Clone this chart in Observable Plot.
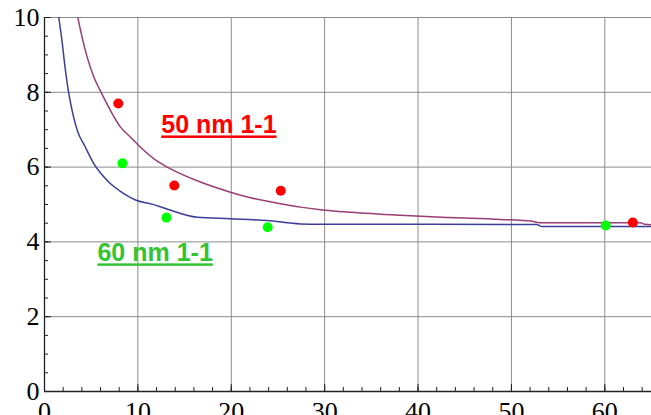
<!DOCTYPE html>
<html>
<head>
<meta charset="utf-8">
<script src="https://cdn.jsdelivr.net/npm/d3@7"></script>
<script src="https://cdn.jsdelivr.net/npm/@observablehq/plot@0.6"></script>
<style>
  html, body { margin: 0; padding: 0; background: white; overflow: hidden; }
  #chart svg { display: block; }
</style>
</head>
<body>
<div id="chart"></div>
<script>
// Fitted curve, 60 nm (blue)
const blueX = [1.53, 1.85, 2.2, 2.6, 2.96, 3.6, 4.3, 5.28, 6.71, 8.49, 9.75, 11.5, 13.1, 16.35, 19.9, 23.85, 27.4, 29.6, 40, 52.7, 53.3, 65];
const blueY = [10, 9.42, 8.67, 7.97, 7.51, 6.92, 6.57, 6.09, 5.64, 5.29, 5.12, 5.01, 4.88, 4.66, 4.62, 4.57, 4.48, 4.47, 4.47, 4.465, 4.41, 4.41];
// Fitted curve, 50 nm (maroon)
const maroonX = [3.57, 4.03, 4.57, 5.28, 6.0, 7.07, 8.14, 9.3, 10.28, 12.24, 13.14, 16.7, 19.9, 22.06, 25.27, 27.4, 29.56, 32.8, 38.1, 43.5, 48.8, 52.2, 53.0, 63.8, 64.3, 65];
const maroonY = [10, 9.47, 8.94, 8.41, 8.03, 7.51, 7.07, 6.78, 6.53, 6.13, 6.0, 5.6, 5.33, 5.18, 5.02, 4.93, 4.86, 4.79, 4.71, 4.65, 4.6, 4.55, 4.51, 4.51, 4.47, 4.46];
// Measured points
const redX = [7.9, 13.9, 25.3, 63.0];
const redY = [7.7, 5.51, 5.37, 4.52];
const greenX = [8.35, 13.06, 23.9, 60.1];
const greenY = [6.1, 4.65, 4.39, 4.44];
// Labels
const labelText = ["50 nm 1-1", "60 nm 1-1"];
const labelX = [12.5, 5.67];
const labelY = [6.9, 3.48];
const labelColor = ["#ff0000", "#33c433"];
// Ticks
const xMajor = [0, 10, 20, 30, 40, 50, 60];
const xMinor = d3.range(0, 66, 2);
const yMajor = [0, 2, 4, 6, 8, 10];
const yMinor = d3.range(0, 10.01, 0.5);
const xGrid = [10, 20, 30, 40, 50, 60];
const yGrid = [2, 4, 6, 8, 10];

const blue = blueX.map((x, i) => ({x, y: blueY[i]}));
const maroon = maroonX.map((x, i) => ({x, y: maroonY[i]}));
const red = redX.map((x, i) => ({x, y: redY[i]}));
const green = greenX.map((x, i) => ({x, y: greenY[i]}));
const labels = labelText.map((t, i) => ({t, x: labelX[i], y: labelY[i], c: labelColor[i]}));

const serif = "'Liberation Serif', 'Times New Roman', Times, Tinos, 'Noto Serif', 'Nimbus Roman', 'Nimbus Roman No9 L', FreeSerif, 'DejaVu Serif', serif";
const sans = "'Liberation Sans', Arial, sans-serif";

const plot = Plot.plot({
  width: 651,
  height: 415,
  marginLeft: 44,
  marginRight: 0,
  marginTop: 17,
  marginBottom: 24,
  x: {domain: [0, 65]},
  y: {domain: [0, 10]},
  style: {background: "white", overflow: "visible", fontFamily: serif, fontSize: "26px"},
  marks: [
    Plot.gridX(xGrid, {stroke: "#8c8c8c", strokeOpacity: 1}),
    Plot.gridY(yGrid, {stroke: "#8c8c8c", strokeOpacity: 1}),
    Plot.axisX(xMinor, {tickSize: -4, tickFormat: () => "", label: null, stroke: "#222"}),
    Plot.axisY(yMinor, {tickSize: -4, tickFormat: () => "", label: null, stroke: "#222"}),
    Plot.axisX(xMajor, {tickSize: -7, tickPadding: 17, label: null, stroke: "#222",
      fontSize: 26, fill: "black"}),
    Plot.axisY(yMajor, {tickSize: -7, tickPadding: 12, label: null, stroke: "#222",
      fontSize: 26, fill: "black"}),
    Plot.ruleX([0], {stroke: "#222", strokeWidth: 1.3}),
    Plot.ruleY([0], {stroke: "#222", strokeWidth: 1.3}),
    Plot.line(blue, {x: "x", y: "y", stroke: "#3d3d99", strokeWidth: 1.5, curve: "monotone-x", clip: true}),
    Plot.line(maroon, {x: "x", y: "y", stroke: "#993d74", strokeWidth: 1.5, curve: "monotone-x", clip: true}),
    Plot.dot(red, {x: "x", y: "y", r: 5, fill: "#ff0000", stroke: "none"}),
    Plot.dot(green, {x: "x", y: "y", r: 5, fill: "#00ff00", stroke: "none"}),
    Plot.text(labels, {x: "x", y: "y", text: "t", fill: "c", textAnchor: "start", lineAnchor: "bottom",
      fontSize: 25, fontWeight: "bold", fontFamily: sans})
  ]
});
// Series labels are underlined sans; every other text is a serif tick label
plot.querySelectorAll("text").forEach(t => {
  if (labelText.includes(t.textContent)) {
    t.style.fontFamily = sans;
    t.style.textDecoration = "underline";
  } else {
    t.style.fontFamily = serif;
    t.style.fontSize = "26px";
  }
});
document.getElementById("chart").appendChild(plot);
</script>
</body>
</html>
